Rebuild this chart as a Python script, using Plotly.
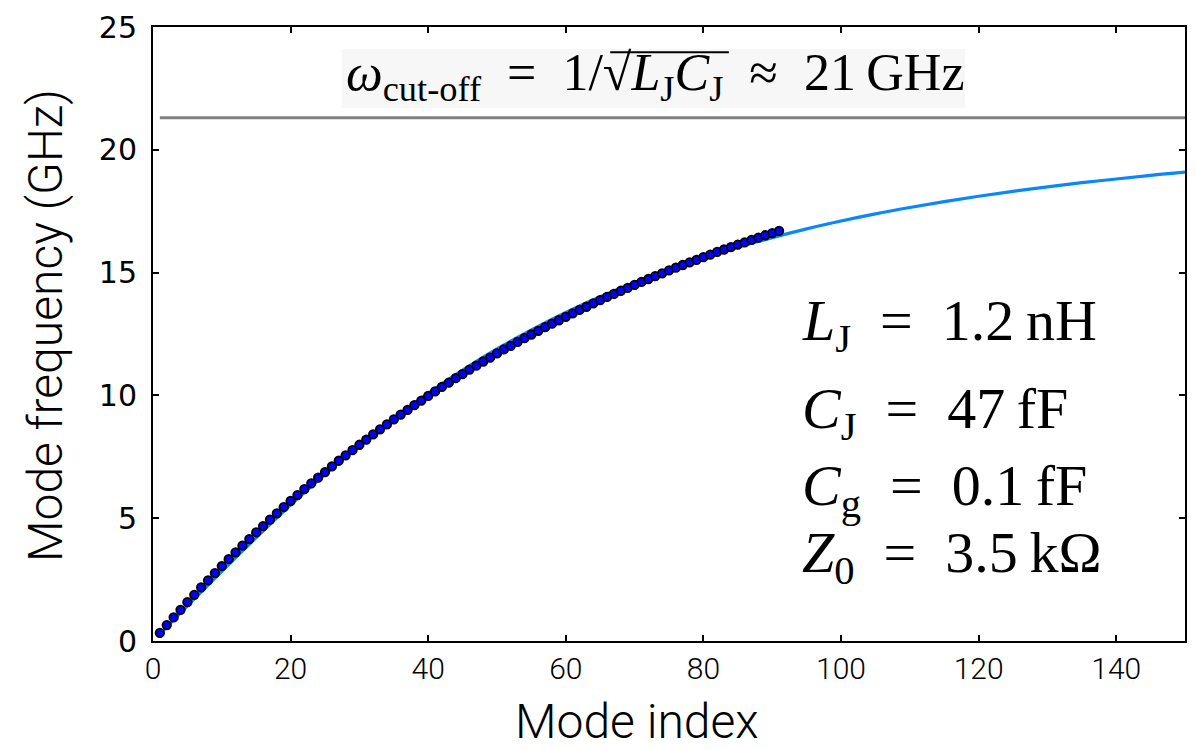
import plotly.graph_objects as go

# Measured modes (dots)
mode_index = list(range(1, 92))
mode_freq = [0.33, 0.65, 0.96, 1.27, 1.58, 1.88, 2.18, 2.47, 2.76, 3.05,
             3.33, 3.61, 3.88, 4.15, 4.42, 4.68, 4.94, 5.20, 5.45, 5.70,
             5.94, 6.18, 6.42, 6.65, 6.88, 7.11, 7.34, 7.56, 7.77, 7.99,
             8.20, 8.41, 8.62, 8.82, 9.02, 9.22, 9.41, 9.60, 9.79, 9.98,
             10.16, 10.35, 10.52, 10.70, 10.87, 11.05, 11.21, 11.38, 11.54, 11.71,
             11.87, 12.02, 12.18, 12.33, 12.48, 12.63, 12.78, 12.92, 13.06, 13.20,
             13.34, 13.48, 13.61, 13.75, 13.88, 14.01, 14.13, 14.26, 14.38, 14.50,
             14.62, 14.74, 14.86, 14.97, 15.09, 15.20, 15.31, 15.42, 15.52, 15.63,
             15.73, 15.84, 15.94, 16.04, 16.14, 16.23, 16.33, 16.42, 16.52, 16.61, 16.70]

# Model curve (blue line)
model_x = [1, 5, 10, 15, 20, 25, 30, 35, 40, 45, 50, 55, 60, 65, 70, 75, 80,
           85, 90, 95, 100, 105, 110, 115, 120, 125, 130, 135, 140, 145, 150]
model_y = [0.29, 1.43, 2.84, 4.21, 5.54, 6.79, 7.97, 9.07, 10.09, 11.03, 11.89,
           12.67, 13.38, 14.02, 14.60, 15.13, 15.60, 16.03, 16.42, 16.78, 17.10,
           17.39, 17.65, 17.89, 18.11, 18.31, 18.49, 18.66, 18.81, 18.96, 19.09]

# Cut-off frequency line
cutoff_x = [1, 150]
cutoff_y = [21.3, 21.3]

x_ticks = [0, 20, 40, 60, 80, 100, 120, 140]
y_ticks = [0, 5, 10, 15, 20, 25]

fig = go.Figure()
fig.add_trace(go.Scatter(x=model_x, y=model_y, mode="lines",
                         line=dict(color="#0a86ff", width=3.2, shape="spline"),
                         showlegend=False))
fig.add_trace(go.Scatter(x=cutoff_x, y=cutoff_y, mode="lines",
                         line=dict(color="#808080", width=3),
                         showlegend=False))
fig.add_trace(go.Scatter(x=mode_index, y=mode_freq, mode="markers",
                         marker=dict(color="#0000ff", size=8.5,
                                     line=dict(color="black", width=1.8)),
                         showlegend=False))

axis_common = dict(showgrid=False, zeroline=False, showline=True, linecolor="black",
                   linewidth=2, mirror="allticks", ticks="inside", ticklen=6,
                   tickwidth=2, tickcolor="black")

fig.update_xaxes(range=[0, 150], tickvals=x_ticks, ticklabelstandoff=0,
                 tickfont=dict(family="Roboto", size=30, color="black", weight=300),
                 **axis_common)
fig.update_yaxes(range=[0, 25], tickvals=y_ticks, ticklabelstandoff=8,
                 tickfont=dict(family="DejaVu Sans", size=30, color="black"),
                 **axis_common)

serif = "Liberation Serif"
fig.add_annotation(xref="paper", yref="paper", x=0.5, y=0, yshift=-80, xshift=-32,
                   text="Mode index", showarrow=False, yanchor="middle",
                   font=dict(family="Roboto", size=48, color="black", weight=300))
fig.add_annotation(xref="paper", yref="paper", x=0, y=0.5, xshift=-108, yshift=8,
                   text="Mode frequency (GHz)", showarrow=False, textangle=-90,
                   xanchor="center", font=dict(family="Roboto", size=48, color="black", weight=300))

# light background box of the cut-off label (decoration)
fig.add_shape(type="rect", xref="paper", yref="paper", x0=0.183, x1=0.787,
              y0=0.868, y1=0.964, fillcolor="#f7f7f7", line=dict(width=0), layer="below")
fig.add_annotation(x=72.9, y=23.0, xref="x", yref="y",
                   text="<i>ω</i><sub>cut-off</sub>\u2002=\u20021/√<i>L</i><sub>J</sub><i>C</i><sub>J</sub>\u2002≈\u200221\u2009GHz",
                   showarrow=False, xanchor="center", yanchor="middle",
                   font=dict(family=serif, size=52, color="black"))
# overline of the square root (decoration)
fig.add_shape(type="line", xref="paper", yref="paper", x0=0.443, x1=0.558,
              y0=0.959, y1=0.959, line=dict(color="black", width=2), layer="above")

params = ["<i>L</i><sub>J</sub>\u2002=\u20021.2\u2009nH", "<i>C</i><sub>J</sub>\u2002=\u200247\u2009fF",
          "<i>C</i><sub>g</sub>\u2002=\u20020.1\u2009fF", "<i>Z</i><sub>0</sub>\u2002=\u20023.5\u2009kΩ"]
param_y = [12.9, 9.3, 6.17, 3.45]
for t, yy in zip(params, param_y):
    fig.add_annotation(x=94, y=yy, xref="x", yref="y", text=t, showarrow=False,
                       xanchor="left", yanchor="middle",
                       font=dict(family=serif, size=58, color="black"))

fig.update_layout(width=1196, height=750, plot_bgcolor="white", paper_bgcolor="white",
                  margin=dict(l=153, r=9, t=26, b=109))

fig.write_html("out.html")
